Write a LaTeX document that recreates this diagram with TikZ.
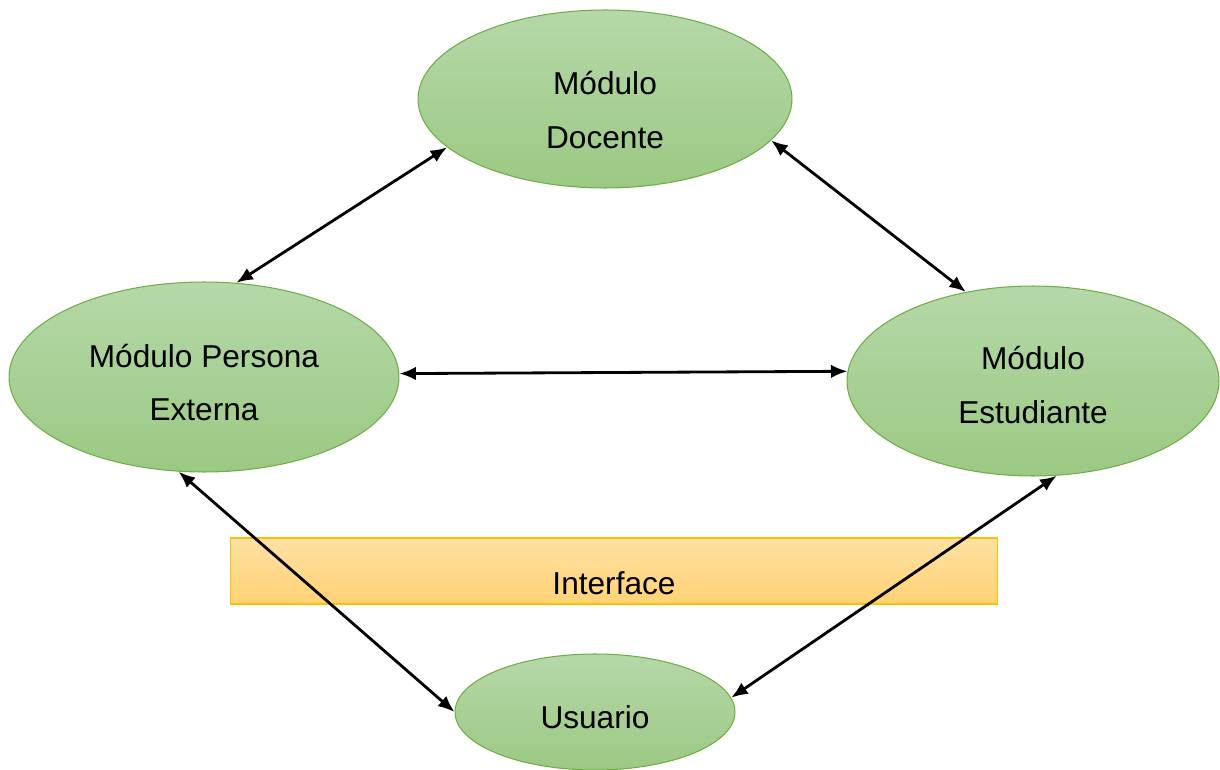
\documentclass[tikz,border=0pt]{standalone}
\usepackage{fontspec}
\setmainfont{Liberation Sans}
\usetikzlibrary{arrows.meta, shapes.geometric}

\definecolor{greentop}{HTML}{B6D8A9}
\definecolor{greenbot}{HTML}{9BC983}
\definecolor{greenline}{HTML}{70AD47}
\definecolor{ambertop}{HTML}{FFE1A4}
\definecolor{amberbot}{HTML}{FFD275}
\definecolor{amberline}{HTML}{FFC000}

\tikzset{
  modulo/.style={ellipse, draw=greenline, line width=0.6pt, top color=greentop, bottom color=greenbot,
    inner sep=0pt},
  rotulo/.style={align=center, inner sep=0pt, font=\fontsize{18}{30.6}\selectfont},
  capa/.style={rectangle, draw=amberline, line width=0.6pt, top color=ambertop, bottom color=amberbot,
    inner sep=0pt},
  enlace/.style={<->, line width=1.6pt}
}

\begin{document}
\begin{tikzpicture}[x=0.02cm, y=-0.02cm, >={Latex[length=3.3mm,width=2.7mm]}]
            \useasboundingbox (0,0) rectangle (1220,770);
            \node [capa, minimum width=15.36cm, minimum height=1.32cm,
            	label={[rotulo, yshift=-0.24cm]center:Interface}] (interfaz) at (614,571) {};
            \node [modulo, minimum width=7.48cm, minimum height=3.56cm,
            	label={[rotulo, yshift=-0.22cm]center:Módulo\\Docente}] (docente) at (605,99) {};
            \node [modulo, minimum width=7.8cm, minimum height=3.8cm,
            	label={[rotulo, yshift=-0.11cm]center:Módulo Persona\\Externa}] (persona) at (204,377) {};
            \node [modulo, minimum width=7.44cm, minimum height=3.8cm,
            	label={[rotulo, yshift=-0.08cm]center:Módulo\\Estudiante}] (estudiante) at (1033,381) {};
            \node [modulo, minimum width=5.6cm, minimum height=2.32cm,
            	label={[rotulo, yshift=-0.1cm]center:Usuario}] (usuario) at (595,712) {};
            \path[enlace]
            	(persona.71) edge (docente.197)
            	(docente.-14) edge (estudiante.127)
            	(persona.1) edge (estudiante.177.5)
            	(persona.-105) edge (usuario.180)
            	(estudiante.-76) edge (usuario.6);
            \end{tikzpicture}
\end{document}
